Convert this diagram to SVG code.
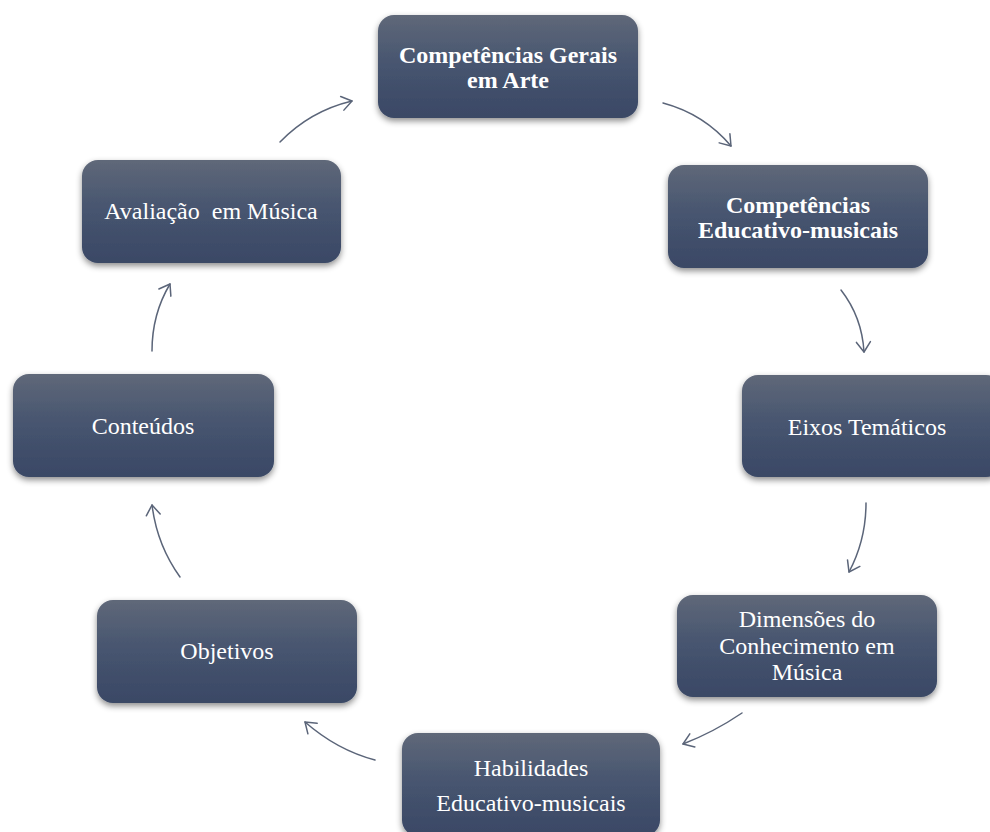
<svg xmlns="http://www.w3.org/2000/svg" width="990" height="832" viewBox="0 0 990 832">
<style>
.box{fill:url(#g);filter:url(#sh)}
.t{font-family:"Liberation Serif","Times New Roman",serif;font-size:24px;fill:#ffffff;text-anchor:middle}
.b{font-weight:bold}
.c{fill:none;stroke:#5b6579;stroke-width:1.5;stroke-linecap:round}
</style>
<defs>
<linearGradient id="g" x1="0" y1="0" x2="0" y2="1">
<stop offset="0" stop-color="#5f6879"/>
<stop offset="0.5" stop-color="#46546f"/>
<stop offset="1" stop-color="#3a4865"/>
</linearGradient>
<filter id="sh" x="-10%" y="-10%" width="120%" height="130%">
<feDropShadow dx="0" dy="3" stdDeviation="3" flood-color="#000" flood-opacity="0.45"/>
</filter>
<marker id="ah" markerUnits="userSpaceOnUse" markerWidth="24" markerHeight="24" refX="12" refY="12" orient="auto" viewBox="0 0 24 24">
<path d="M2,5 L12,12 L2,19" fill="none" stroke="#5b6579" stroke-width="1.5" stroke-linecap="round" stroke-linejoin="round"/>
</marker>
</defs>
<rect width="990" height="832" fill="#ffffff"/>
<g id="n1"><rect class="box" x="378" y="15" width="260" height="103" rx="16"/>
<text class="t b" x="508" y="63">Competências Gerais</text><text class="t b" x="508" y="88">em Arte</text></g>
<g id="n2"><rect class="box" x="668" y="165" width="260" height="103" rx="16"/>
<text class="t b" x="798" y="213">Competências</text><text class="t b" x="798" y="238">Educativo-musicais</text></g>
<g id="n3"><rect class="box" x="742" y="375" width="260" height="102" rx="16"/>
<text class="t" x="867" y="435">Eixos Temáticos</text></g>
<g id="n4"><rect class="box" x="677" y="595" width="260" height="102" rx="16"/>
<text class="t" x="807" y="627">Dimensões do</text><text class="t" x="807" y="654">Conhecimento em</text><text class="t" x="807" y="680">Música</text></g>
<g id="n5"><rect class="box" x="402" y="733" width="258" height="103" rx="16"/>
<text class="t" x="531" y="776">Habilidades</text><text class="t" x="531" y="811">Educativo-musicais</text></g>
<g id="n6"><rect class="box" x="97" y="600" width="260" height="103" rx="16"/>
<text class="t" x="227" y="659">Objetivos</text></g>
<g id="n7"><rect class="box" x="13" y="374" width="261" height="103" rx="16"/>
<text class="t" x="143" y="434">Conteúdos</text></g>
<g id="n8"><rect class="box" x="82" y="160" width="259" height="103" rx="16"/>
<text class="t" x="211" y="219" xml:space="preserve">Avaliação  em Música</text></g>
<g id="connectors">
<path class="c" marker-end="url(#ah)" d="M280,142 Q310,111 352,101"/>
<path class="c" marker-end="url(#ah)" d="M663,103 Q704,114 731,146"/>
<path class="c" marker-end="url(#ah)" d="M841,290 Q862,317 864,352"/>
<path class="c" marker-end="url(#ah)" d="M866,503 Q866,540 849,572"/>
<path class="c" marker-end="url(#ah)" d="M742,713 Q714,732 683,744"/>
<path class="c" marker-end="url(#ah)" d="M375,760 Q337,750 305,722"/>
<path class="c" marker-end="url(#ah)" d="M180,577 Q157,545 152,505"/>
<path class="c" marker-end="url(#ah)" d="M152,351 Q152,314 170,284"/>
</g>
</svg>
